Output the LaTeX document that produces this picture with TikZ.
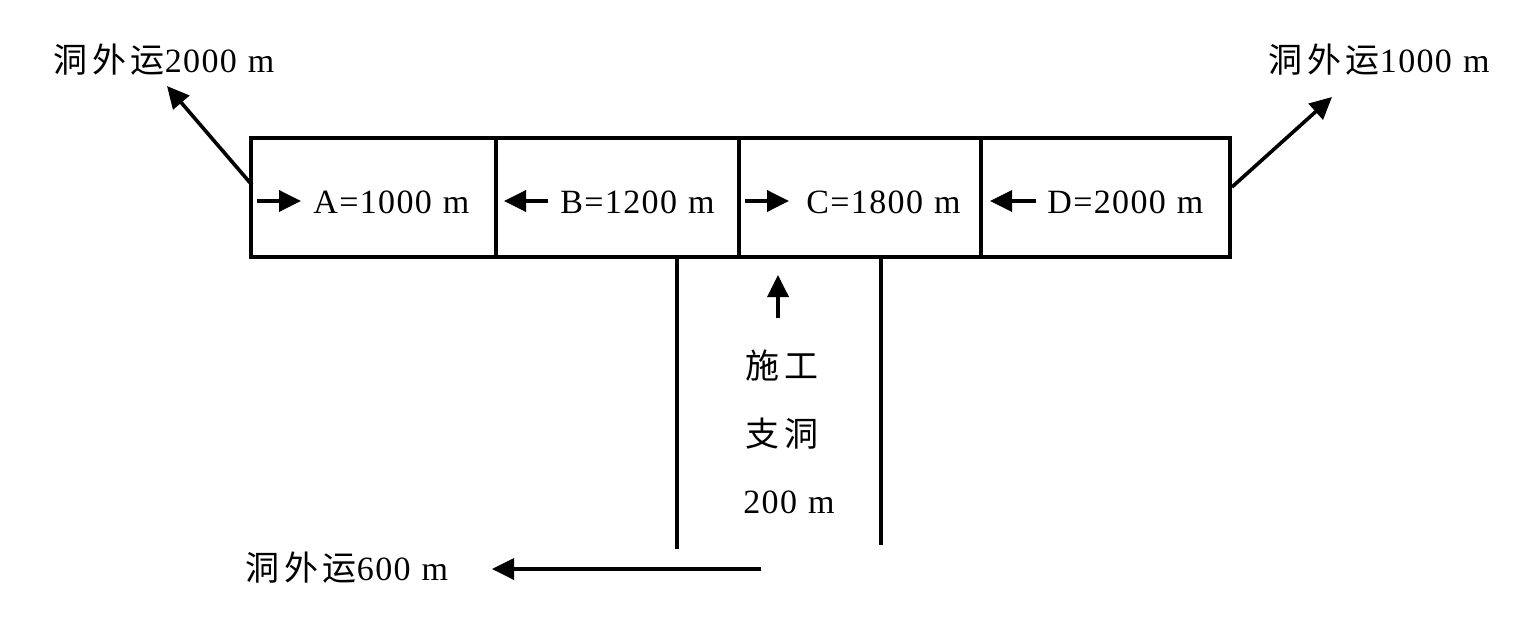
\documentclass[tikz,border=0pt]{standalone}
\usepackage{fontspec}
\setmainfont[LetterSpace=4]{Liberation Serif}
\newfontfamily\cjk[LetterSpace=14]{Noto Sans CJK SC}
\usetikzlibrary{arrows.meta}
\begin{document}
\begin{tikzpicture}[x=0.5pt,y=-0.5pt,
  ln/.style={line width=1.6pt},
  arr/.style={line width=1.8pt,-{Triangle[length=11pt,width=10.5pt]}},
  cell/.style={draw,line width=1.6pt,inner sep=0pt,minimum height=59.5pt},
  lbl/.style={anchor=base west,inner sep=0pt,font=\fontsize{17}{20}\selectfont},
  vlbl/.style={anchor=base,inner sep=0pt,font=\fontsize{17}{20}\selectfont}]
\useasboundingbox (0,0) rectangle (1535,626);
% main tunnel cells
\node[cell,minimum width=122.5pt] (cA) at (373.5,197.5) {};
\node[cell,minimum width=121.5pt] (cB) at (617.5,197.5) {};
\node[cell,minimum width=121pt] (cC) at (860,197.5) {};
\node[cell,minimum width=124.5pt] (cD) at (1105.5,197.5) {};
% labels in cells
\coordinate (aA1) at (257,201); \coordinate (aA2) at (301,201);
\coordinate (aB1) at (548,201); \coordinate (aB2) at (504,201);
\coordinate (aC1) at (745,201); \coordinate (aC2) at (789,201);
\coordinate (aD1) at (1036,201); \coordinate (aD2) at (990,201);
\draw[arr] (aA1) -- (aA2);
\draw[arr] (aB1) -- (aB2);
\draw[arr] (aC1) -- (aC2);
\draw[arr] (aD1) -- (aD2);
\node[lbl] (tA) at (313,213) {A=1000\hspace{5.5pt}m};
\node[lbl] (tB) at (560,213) {B=1200\hspace{5.5pt}m};
\node[lbl] (tC) at (806,213) {C=1800\hspace{5.5pt}m};
\node[lbl] (tD) at (1047,213) {D=2000\hspace{5.5pt}m};
% outer transport labels and arrows
\node[lbl] (tL) at (53,73) {{\cjk 洞外运}2000\hspace{5.5pt}m};
\node[lbl] (tR) at (1268,73) {{\cjk 洞外运}1000\hspace{5.5pt}m};
\coordinate (oL1) at (252,185); \coordinate (oL2) at (167,86);
\coordinate (oR1) at (1232,187); \coordinate (oR2) at (1332,97);
\draw[arr] (oL1) -- (oL2);
\draw[arr] (oR1) -- (oR2);
% branch tunnel
\coordinate (bL1) at (677,257); \coordinate (bL2) at (677,549);
\coordinate (bR1) at (881,257); \coordinate (bR2) at (881,545);
\draw[ln] (bL1) -- (bL2);
\draw[ln] (bR1) -- (bR2);
\coordinate (u1) at (778,318); \coordinate (u2) at (778,275);
\draw[arr] (u1) -- (u2);
\node[vlbl] (t1) at (782,378) {\cjk 施工};
\node[vlbl] (t2) at (782,446) {\cjk 支洞};
\node[lbl] (t3) at (743,513) {200\hspace{5.5pt}m};
% bottom transport
\coordinate (w1) at (761,569); \coordinate (w2) at (492,569);
\draw[arr] (w1) -- (w2);
\node[lbl] (tW) at (245,580) {{\cjk 洞外运}600\hspace{5.5pt}m};
\end{tikzpicture}
\end{document}
